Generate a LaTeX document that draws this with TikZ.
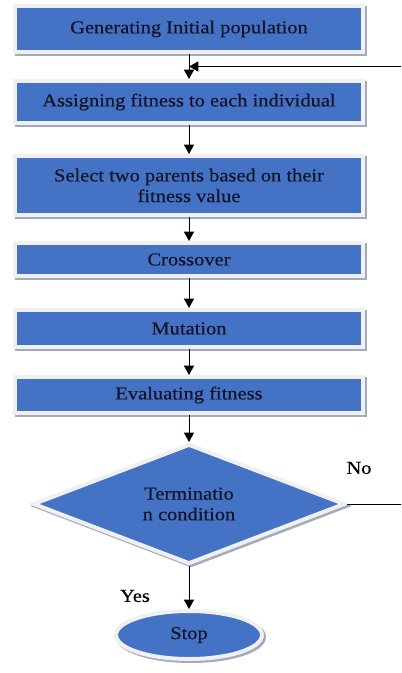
\documentclass[tikz,border=0pt]{standalone}
\usepackage{fontspec}
\setmainfont{Liberation Serif}[FakeStretch=1.12,FakeBold=0.4]
\usetikzlibrary{arrows.meta,positioning,calc,shapes.geometric,shadows}
\definecolor{gablue}{HTML}{4472C4}
\definecolor{rim}{HTML}{F0F0F0}
\definecolor{shade}{HTML}{A3AAB9}
\definecolor{ink}{HTML}{141428}

\begin{document}
\begin{tikzpicture}[
  stage/.style={draw=rim,fill=gablue,line width=3pt,minimum width=261pt,align=center,
    font=\fontsize{13.7pt}{15.5pt}\selectfont,text=ink,inner sep=2pt,
    drop shadow={shadow xshift=1.5pt,shadow yshift=-1.5pt,fill=shade,draw=shade,line width=3pt,opacity=1}},
  test/.style={stage,diamond,minimum width=234pt,minimum height=90pt,aspect=2.6},
  halt/.style={stage,ellipse,minimum width=109.5pt,minimum height=36pt},
  arr/.style={-{Triangle[length=7pt,width=7.5pt]},draw=black,line width=0.75pt},
  lbl/.style={font=\fontsize{13.7pt}{15.5pt}\selectfont,text=black}]
\clip (0,0) rectangle (300.75pt,-504.75pt);
\node[stage,minimum height=34.5pt] (init) at (141.75pt,-21.75pt) {Generating Initial population};
\node[stage,minimum height=31.5pt,below=18.75pt of init] (fit) {Assigning fitness to each individual};
\node[stage,minimum height=44.25pt,below=21.75pt of fit] (sel) {Select two parents based on their\\fitness value};
\node[stage,minimum height=24.75pt,below=18pt of sel] (cross) {Crossover};
\node[stage,minimum height=27.75pt,below=22.5pt of cross] (mut) {Mutation};
\node[stage,minimum height=27pt,below=19.5pt of mut] (eval) {Evaluating fitness};
\node[test,below=20.25pt of eval] (cond) {Terminatio\\n condition};
\node[halt,below=32.25pt of cond] (stop) {Stop};
\coordinate (join) at ($(init.south)!0.5!(fit.north)$);
\draw[arr] (init) -- (fit); \draw[arr] (fit) -- (sel); \draw[arr] (sel) -- (cross);
\draw[arr] (cross) -- (mut); \draw[arr] (mut) -- (eval); \draw[arr] (eval) -- (cond);
\draw[arr] (cond) -- (stop);
\draw[arr] (cond.east) -- ++(45pt,0) coordinate (back) |- (join);
\node[lbl] (no) at ($(cond.east)+(9pt,27pt)$) {No};
\node[lbl] (yes) at ($(cond.south)+(-40.5pt,-22.5pt)$) {Yes};
\end{tikzpicture}
\end{document}
